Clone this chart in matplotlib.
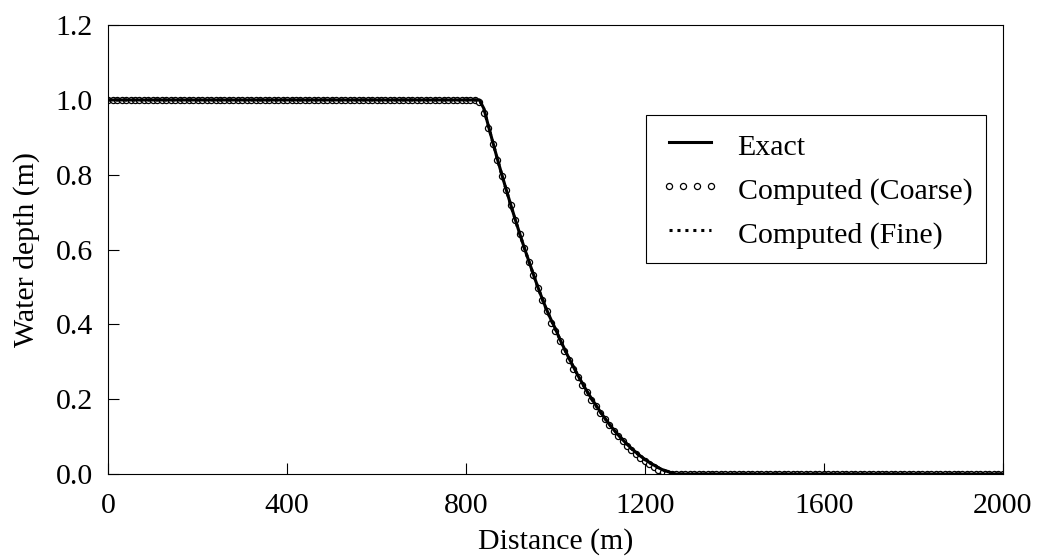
import numpy as np
import matplotlib.pyplot as plt

plt.rcParams['font.family'] = ['Liberation Serif', 'DejaVu Serif']

# exact solution
x_exact = [0, 830, 840, 850, 860, 870, 880, 890, 900, 910, 920, 930, 940, 950,
           960, 970, 980, 990, 1000, 1010, 1020, 1030, 1040, 1050, 1060, 1070,
           1080, 1090, 1100, 1110, 1120, 1130, 1140, 1150, 1160, 1170, 1180,
           1190, 1200, 1210, 1220, 1230, 1240, 1250, 1260, 1270, 2000]
h_exact = [1.0, 1.0, 0.977, 0.931, 0.887, 0.843, 0.801, 0.760, 0.720, 0.681,
           0.643, 0.606, 0.571, 0.536, 0.502, 0.470, 0.440, 0.413, 0.388, 0.360,
           0.335, 0.310, 0.287, 0.264, 0.243, 0.222, 0.203, 0.185, 0.167, 0.150,
           0.134, 0.119, 0.105, 0.092, 0.080, 0.068, 0.058, 0.048, 0.039, 0.031,
           0.024, 0.017, 0.011, 0.007, 0.003, 0.0, 0.0]

# coarse grid result, 10 m spacing
x_coarse = list(range(0, 2001, 10))
h_slope = [0.995, 0.965, 0.925, 0.882, 0.840, 0.798, 0.758, 0.718, 0.679,
           0.641, 0.604, 0.568, 0.533, 0.498, 0.466, 0.436, 0.404, 0.383, 0.355,
           0.330, 0.305, 0.282, 0.259, 0.238, 0.218, 0.199, 0.181, 0.163, 0.146,
           0.130, 0.115, 0.101, 0.088, 0.076, 0.064, 0.053, 0.043, 0.034, 0.026,
           0.018, 0.011, 0.005, 0.002, 0.0]
h_coarse = [1.0] * 83 + h_slope + [0.0] * (201 - 83 - len(h_slope))

# fine grid result
x_fine = [0, 830, 840, 860, 880, 900, 920, 940, 960, 980, 1000, 1020, 1040,
          1060, 1080, 1100, 1120, 1140, 1160, 1180, 1200, 1220, 1240, 1260, 1270, 2000]
h_fine = [1.0, 1.0, 0.975, 0.886, 0.800, 0.719, 0.642, 0.570, 0.501, 0.439,
          0.387, 0.334, 0.286, 0.242, 0.202, 0.166, 0.133, 0.105, 0.079, 0.057,
          0.038, 0.023, 0.011, 0.003, 0.0, 0.0]

fig = plt.figure(figsize=(10.5, 5.59), dpi=100)
ax = fig.add_axes([0.103, 0.152, 0.852, 0.803])

ax.plot(x_coarse, h_coarse, linestyle='none', marker='o', markersize=4.4,
        markerfacecolor='white', markeredgecolor='black', markeredgewidth=0.9,
        label='Computed (Coarse)', zorder=2)
ax.plot(x_exact, h_exact, color='black', lw=2.2, label='Exact', zorder=3)
ax.plot(x_fine, h_fine, color='black', lw=2.2, linestyle=(0, (1, 1.6)),
        label='Computed (Fine)', zorder=4)

ax.set_xlim(0, 2000)
ax.set_ylim(0, 1.2)
ax.set_xticks([0, 400, 800, 1200, 1600, 2000])
ax.set_yticks([0.0, 0.2, 0.4, 0.6, 0.8, 1.0, 1.2])
ax.set_yticklabels(['0.0', '0.2', '0.4', '0.6', '0.8', '1.0', '1.2'])
ax.tick_params(direction='in', labelsize=21.5, length=8, width=0.8)
ax.tick_params(axis='x', pad=14)
ax.tick_params(axis='y', pad=11)
ax.set_xlabel('Distance (m)', fontsize=21.5, labelpad=6)
ax.set_ylabel('Water depth (m)', fontsize=21.5, labelpad=11)

handles, labels = ax.get_legend_handles_labels()
order = [1, 0, 2]
leg = ax.legend([handles[i] for i in order], [labels[i] for i in order],
                loc='upper right', bbox_to_anchor=(0.981, 0.80), borderaxespad=0,
                fontsize=21.5, numpoints=4, handlelength=2.0, handletextpad=0.6,
                handleheight=1.35, fancybox=False, edgecolor='black', framealpha=1,
                borderpad=0.45, labelspacing=0.35)
leg.get_frame().set_linewidth(0.8)

fig.savefig('out.png', dpi=100)
